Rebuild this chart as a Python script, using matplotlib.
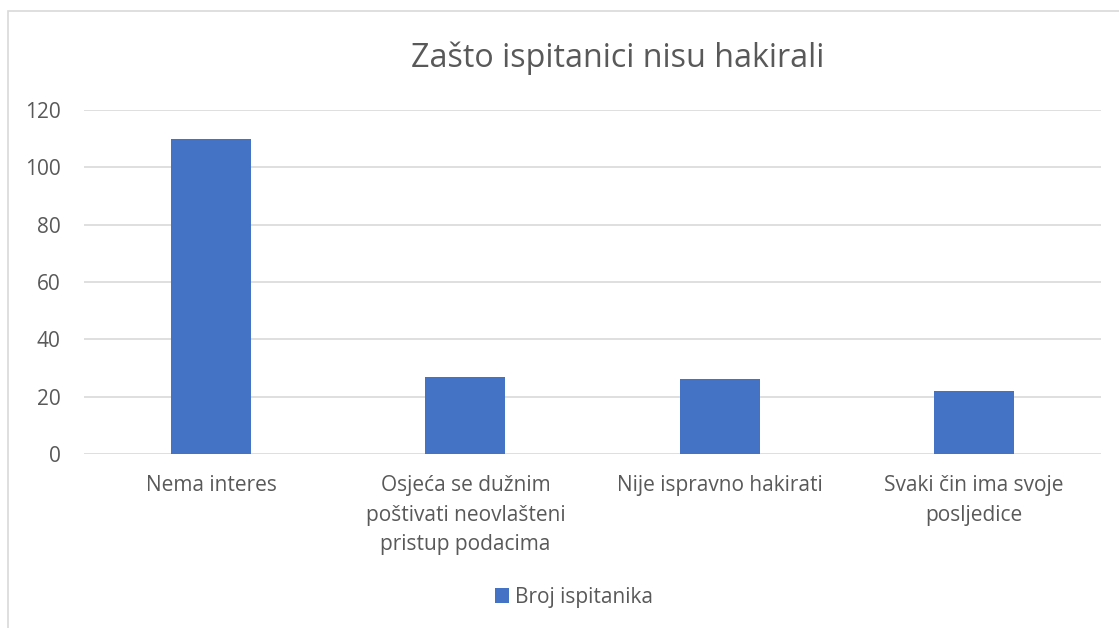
import matplotlib.pyplot as plt
from matplotlib.patches import Rectangle

# === Data ===
categories = [
    "Nema interes",
    "Osjeća se dužnim\npoštivati neovlašteni\npristup podacima",
    "Nije ispravno hakirati",
    "Svaki čin ima svoje\nposljedice",
]
values = [110, 27, 26, 22]
series_name = "Broj ispitanika"
title = "Zašto ispitanici nisu hakirali"
yticks = [0, 20, 40, 60, 80, 100, 120]

bar_color = "#4472C4"
text_color = "#595959"
grid_color = "#D9D9D9"

plt.rcParams['font.family'] = ['Open Sans', 'DejaVu Sans']

fig = plt.figure(figsize=(11.19, 6.28), dpi=100)
ax = fig.add_axes([0.0751, 0.2771, 0.9088, 0.5477])

# outer chart border (only top and left visible in the crop)
fig.patches.append(Rectangle((8 / 1119, -0.1), 1.2, 1 - 11 / 628 + 0.1,
                             transform=fig.transFigure, fill=False,
                             edgecolor=grid_color, linewidth=1.2))

x = list(range(len(categories)))
ax.bar(x, values, width=0.315, color=bar_color, zorder=3, label=series_name)

ax.set_xlim(-0.5, len(categories) - 0.5)
ax.set_ylim(0, 120)
ax.set_yticks(yticks)
ax.set_xticks(x)
ax.set_xticklabels(categories, fontsize=15, color=text_color, linespacing=1.55)
ax.tick_params(axis='y', labelsize=15, labelcolor=text_color, length=0, pad=17)
ax.tick_params(axis='x', length=0, pad=15)
for lab in ax.get_xticklabels():
    lab.set_verticalalignment('top')

ax.grid(axis='y', color=grid_color, linewidth=1.2, zorder=0)
for s in ax.spines.values():
    s.set_visible(False)

fig.text(0.552, 0.907, title, fontsize=23.2, color=text_color,
         ha='center', va='center')

fig.legend(loc='center', bbox_to_anchor=(0.513, 0.049), frameon=False,
           fontsize=15, labelcolor=text_color, handlelength=0.7,
           handleheight=0.7, handletextpad=0.3)

fig.savefig("out.png", dpi=100)
